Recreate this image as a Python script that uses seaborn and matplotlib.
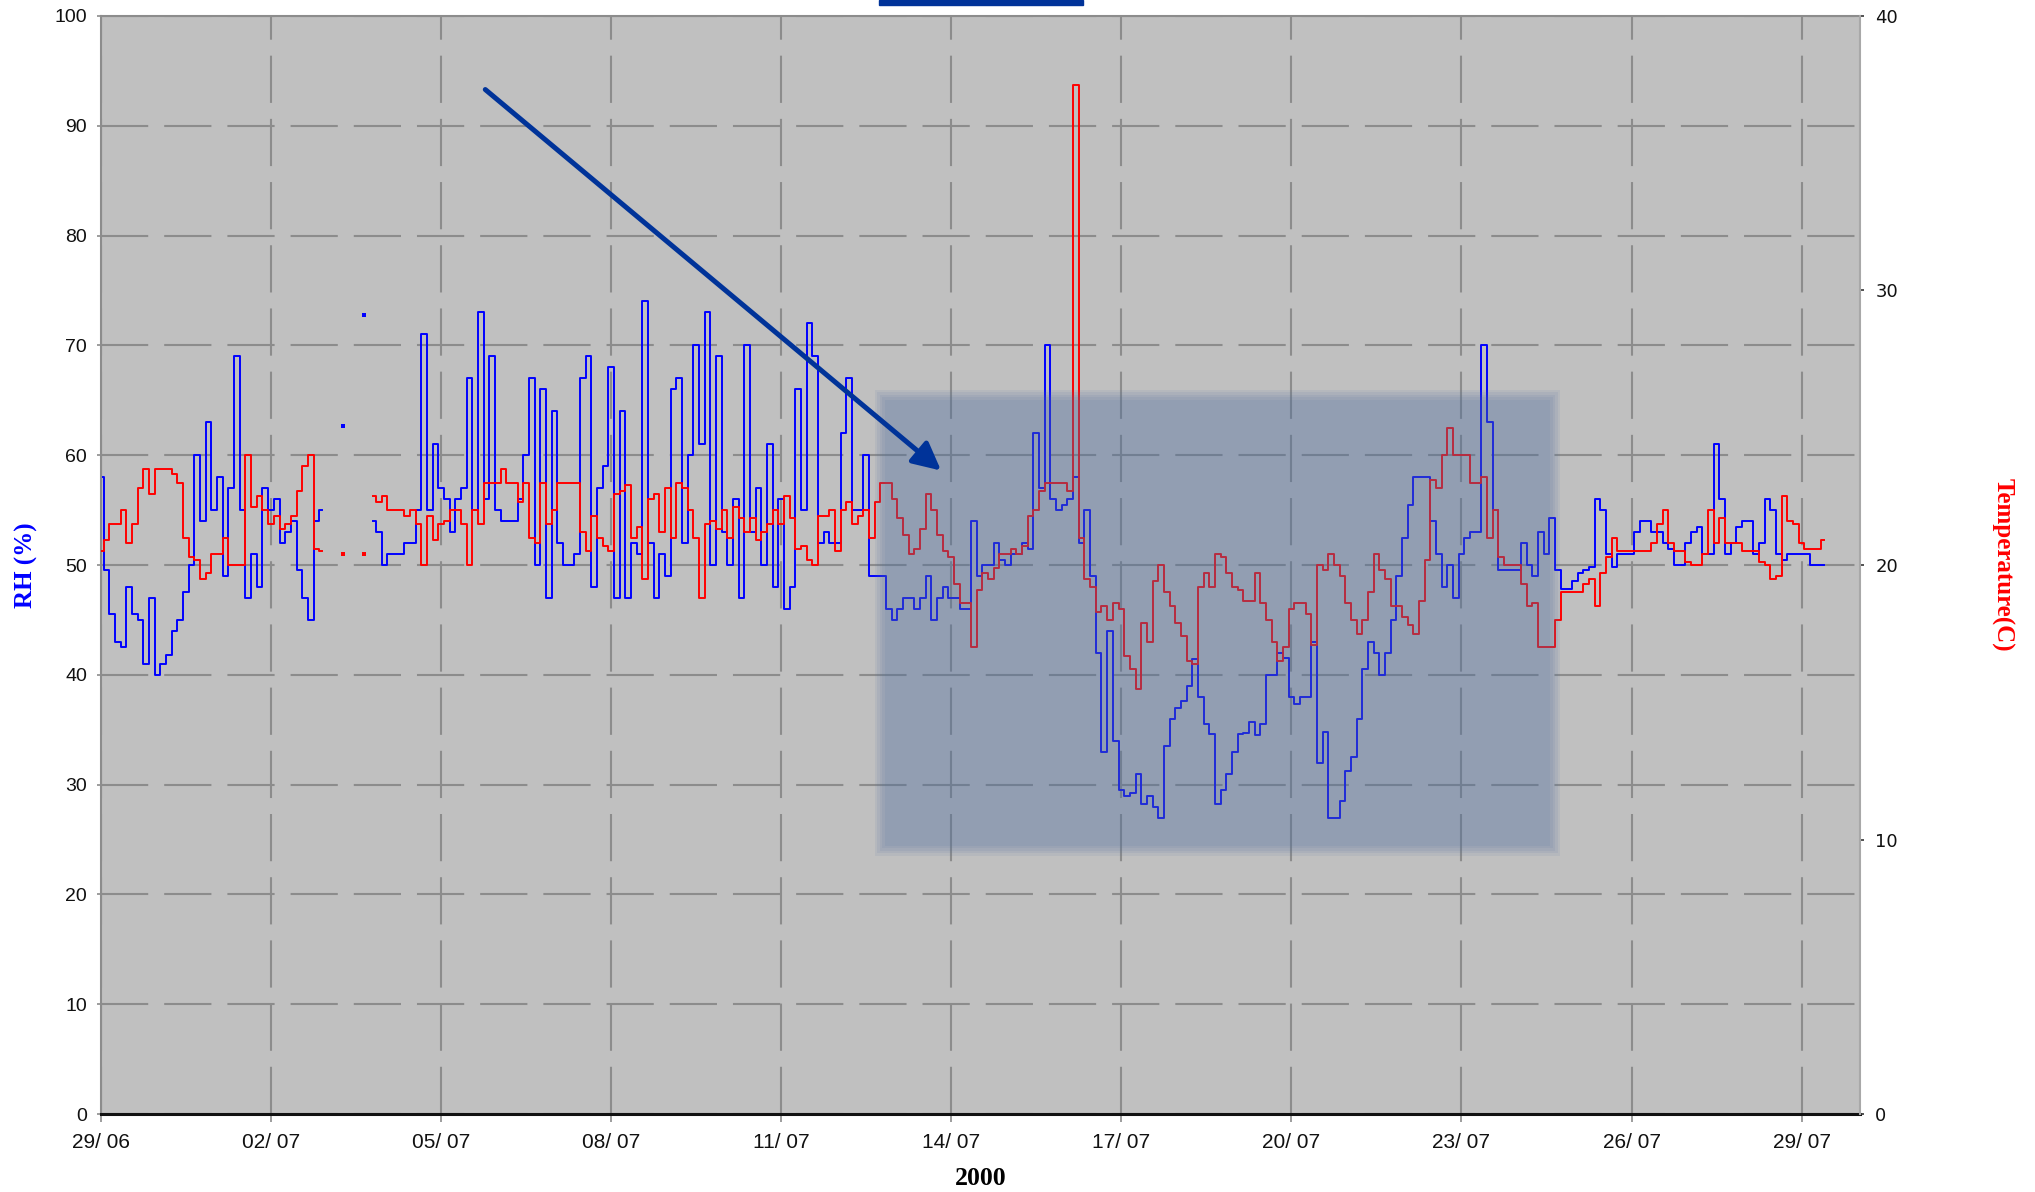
"""
RH and temperature logger trace, 29/06 - 30/07/2000.
Blue = relative humidity (left axis), red = temperature (right axis).
"""

import numpy as np
import pandas as pd
import matplotlib
matplotlib.use("Agg")
import matplotlib.pyplot as plt
from matplotlib.patches import Rectangle
import seaborn as sns

nan = np.nan

# ── data: one reading every 0.1 day from 29/06/2000, one row per day ──
day_step = 0.1

rh = [
    58, 49.5, 45.5, 43, 42.5, 48, 45.5, 45, 41, 47,
    40, 41, 41.8, 44, 45, 47.5, 50, 60, 54, 63,
    55, 58, 49, 57, 69, 55, 47, 51, 48, 57,
    55, 56, 52, 53, 54, 49.5, 47, 45, 54, 55,
    nan, nan, nan, nan, nan, nan, nan, nan, 54, 53,
    50, 51, 51, 51, 52, 52, 55, 71, 55, 61,
    57, 56, 53, 56, 57, 67, 55, 73, 56, 69,
    55, 54, 54, 54, 56, 60, 67, 50, 66, 47,
    64, 52, 50, 50, 51, 67, 69, 48, 57, 59,
    68, 47, 64, 47, 52, 51, 74, 52, 47, 51,
    49, 66, 67, 52, 60, 70, 61, 73, 50, 69,
    53, 50, 56, 47, 70, 53, 57, 50, 61, 48,
    56, 46, 48, 66, 55, 72, 69, 52, 53, 52,
    52, 62, 67, 55, 55, 60, 49, 49, 49, 46,
    45, 46, 47, 47, 46, 47, 49, 45, 47, 48,
    47, 47, 46, 46, 54, 49, 50, 50, 52, 50.5,
    50, 51, 51, 52, 51.5, 62, 57, 70, 56, 55,
    55.5, 56, 58, 52, 55, 49, 42, 33, 44, 34,
    29.5, 29, 29.2, 31, 28.2, 29, 28, 27, 33.5, 36,
    37, 37.6, 39, 41.4, 38, 35.5, 34.6, 28.2, 29.5, 31,
    33, 34.6, 34.7, 35.7, 34.5, 35.5, 40, 40, 42, 41.5,
    38, 37.3, 38, 38, 43, 32, 34.8, 27, 27, 28.5,
    31.2, 32.5, 36, 40.5, 43, 42, 40, 42, 45, 49,
    52.5, 55.5, 58, 58, 58, 54, 51, 48, 50, 47,
    51, 52.5, 53, 53, 70, 63, 55, 49.5, 49.5, 49.5,
    49.5, 52, 50, 49, 53, 51, 54.3, 49.5, 47.8, 47.8,
    48.5, 49.3, 49.5, 49.8, 56, 55, 51, 49.8, 51, 51,
    51, 53, 54, 54, 53, 53, 52, 51.5, 50, 50,
    52, 53, 53.5, 51, 51, 61, 56, 51, 52, 53.5,
    54, 54, 51, 52, 56, 55, 51, 50.5, 51, 51,
    51, 51, 50, 50, 50,
]

temp = [
    20.5, 20.9, 21.5, 21.5, 22.0, 20.8, 21.5, 22.8, 23.5, 22.6,
    23.5, 23.5, 23.5, 23.3, 23.0, 21.0, 20.3, 20.2, 19.5, 19.7,
    20.4, 20.4, 21.0, 20.0, 20.0, 20.0, 24.0, 22.1, 22.5, 22.0,
    21.5, 21.8, 21.3, 21.5, 21.8, 22.7, 23.6, 24.0, 20.6, 20.5,
    nan, nan, nan, nan, nan, nan, nan, nan, 22.5, 22.3,
    22.5, 22.0, 22.0, 22.0, 21.8, 22.0, 21.5, 20.0, 21.8, 20.9,
    21.5, 21.6, 22.0, 22.0, 21.5, 20.0, 22.0, 21.5, 23.0, 23.0,
    23.0, 23.5, 23.0, 23.0, 22.3, 23.0, 21.0, 20.8, 23.0, 21.5,
    22.0, 23.0, 23.0, 23.0, 23.0, 21.2, 20.5, 21.8, 21.0, 20.7,
    20.5, 22.6, 22.7, 22.9, 21.0, 21.4, 19.5, 22.4, 22.6, 21.2,
    22.8, 21.0, 23.0, 22.8, 22.0, 21.0, 18.8, 21.5, 21.6, 21.3,
    22.0, 21.0, 22.1, 21.7, 21.2, 21.7, 20.9, 21.2, 21.5, 22.0,
    21.5, 22.5, 21.7, 20.6, 20.7, 20.2, 20.0, 21.8, 21.8, 22.0,
    20.5, 22.0, 22.3, 21.5, 21.8, 22.0, 21.0, 22.3, 23.0, 23.0,
    22.4, 21.7, 21.1, 20.4, 20.6, 21.3, 22.6, 22.0, 21.1, 20.5,
    20.3, 19.3, 18.6, 18.6, 17.0, 19.1, 19.7, 19.5, 19.9, 20.4,
    20.4, 20.6, 20.4, 20.7, 21.8, 22.0, 22.7, 23.0, 23.0, 23.0,
    23.0, 22.7, 37.5, 21.0, 19.5, 19.2, 18.3, 18.5, 18.0, 18.6,
    18.4, 16.7, 16.2, 15.5, 17.9, 17.2, 19.4, 20.0, 19.0, 18.5,
    17.9, 17.4, 16.5, 16.4, 19.2, 19.7, 19.2, 20.4, 20.3, 19.7,
    19.2, 19.1, 18.7, 18.7, 19.7, 18.6, 18.0, 17.2, 16.5, 17.0,
    18.4, 18.6, 18.6, 18.2, 17.1, 20.0, 19.8, 20.4, 20.0, 19.6,
    18.6, 18.0, 17.5, 18.0, 19.0, 20.4, 19.8, 19.5, 18.5, 18.5,
    18.1, 17.8, 17.5, 18.7, 20.2, 23.1, 22.8, 24.0, 25.0, 24.0,
    24.0, 24.0, 23.0, 23.0, 23.2, 21.0, 22.0, 20.3, 20.0, 20.0,
    20.0, 19.3, 18.5, 18.6, 17.0, 17.0, 17.0, 18.0, 19.0, 19.0,
    19.0, 19.0, 19.3, 19.5, 18.5, 19.7, 20.3, 21.0, 20.5, 20.5,
    20.5, 20.5, 20.5, 20.5, 20.8, 21.5, 22.0, 20.8, 20.5, 20.5,
    20.1, 20.0, 20.0, 20.4, 22.0, 20.8, 21.7, 20.8, 20.8, 20.8,
    20.5, 20.5, 20.5, 20.1, 20.0, 19.5, 19.6, 22.5, 21.6, 21.5,
    20.8, 20.6, 20.6, 20.6, 20.9,
]

# lone readings inside the logger gap (03/07 - 04/07)
gap_days = [4.27, 4.64]
gap_rh = [62.7, 72.8]
gap_temp = [20.4, 20.4]

tick_days = [0, 3, 6, 9, 12, 15, 18, 21, 24, 27, 30]
tick_labels = ["29/ 06", "02/ 07", "05/ 07", "08/ 07", "11/ 07", "14/ 07",
               "17/ 07", "20/ 07", "23/ 07", "26/ 07", "29/ 07"]

# highlighted dry spell and the arrow pointing to it (day, RH)
highlight_days = (13.74, 25.65)
highlight_rh = (24.0, 65.5)
arrow_tail = (6.78, 93.3)
arrow_head = (14.82, 58.6)

# ── style ──
BLUE = "#0000FF"
RED = "#FF0000"
NAVY = "#003399"
GRID = "#8C8C8C"

plt.rcParams.update({
    "font.family": ["Liberation Sans", "DejaVu Sans"],
    "lines.scale_dashes": False,
})

days = np.arange(len(rh)) * day_step
df = pd.DataFrame({"day": days, "rh": rh, "temp": temp})
df["seg"] = df["rh"].isna().cumsum()   # break the lines at the gap
df = df.dropna()

fig, ax = plt.subplots(figsize=(20.35, 11.92), dpi=100)
fig.subplots_adjust(left=0.0496, right=0.914, bottom=0.0654, top=0.9866)
ax.set_facecolor("#C0C0C0")
ax2 = ax.twinx()

# the logger trace is stair-stepped, so draw it that way
sns.lineplot(data=df, x="day", y="rh", units="seg", estimator=None,
             color=BLUE, lw=1.4, ax=ax, legend=False, drawstyle="steps-mid")
sns.scatterplot(x=gap_days, y=gap_rh, color=BLUE, marker="s", s=6,
                linewidth=0, ax=ax)
sns.lineplot(data=df, x="day", y="temp", units="seg", estimator=None,
             color=RED, lw=1.4, ax=ax2, legend=False, drawstyle="steps-mid")
sns.scatterplot(x=gap_days, y=gap_temp, color=RED, marker="s", s=6,
                linewidth=0, ax=ax2)

# shaded window (on the twin so it covers both traces); a few nested
# layers give it the soft edge of the original
px_day = 31.03 / 1759      # one pixel in days
px_rh = 100 / 1098         # one pixel in RH units
for k in range(-2, 3):
    grow = 2.5 * k
    ax2.add_patch(Rectangle(
        (highlight_days[0] - grow * px_day, highlight_rh[0] - grow * px_rh),
        highlight_days[1] - highlight_days[0] + 2 * grow * px_day,
        highlight_rh[1] - highlight_rh[0] + 2 * grow * px_rh,
        transform=ax.transData, facecolor="#5270A2", alpha=0.097,
        edgecolor="none", zorder=3))

ax2.annotate("", xy=arrow_head, xytext=arrow_tail,
             xycoords=ax.transData, textcoords=ax.transData,
             arrowprops=dict(arrowstyle="-|>,head_length=0.6,head_width=0.3",
                             color=NAVY, lw=3.6, shrinkA=0, shrinkB=0,
                             mutation_scale=28),
             zorder=4)

# ── axes ──
ax.set_xlim(0, 31.03)
ax.set_ylim(0, 100)
ax2.set_ylim(0, 40)

ax.set_xticks(tick_days)
ax.set_xticklabels(tick_labels, fontsize=15, color="#111111")
ax.set_yticks(range(0, 101, 10))
ax.tick_params(axis="y", labelsize=14, labelcolor="#111111", length=3,
               width=1.2, color=GRID, pad=7)
ax.tick_params(axis="x", direction="inout", length=12, width=1.2,
               color=GRID, pad=8)

ax2.set_yticks(range(0, 41, 10))
ax2.tick_params(axis="y", labelsize=13, labelcolor="#111111", length=3,
                width=1.2, color="#333333", pad=8)
for lab in ax2.get_yticklabels():
    lab.set_fontfamily("DejaVu Sans")

ax.grid(True, color=GRID, lw=1.5, linestyle=(0, (34, 11.5)))

for side in ["left", "top"]:
    ax.spines[side].set_color("#8C8C8C")
    ax.spines[side].set_linewidth(1.5)
ax.spines["bottom"].set_color("#111111")
ax.spines["bottom"].set_linewidth(2.2)
ax.spines["right"].set_visible(False)
for side in ["left", "top", "bottom"]:
    ax2.spines[side].set_visible(False)
ax2.spines["right"].set_color("#A8A8A8")
ax2.spines["right"].set_linewidth(1.5)

serif = ["Liberation Serif", "DejaVu Serif"]
ax.set_ylabel("RH (%)", color=BLUE, fontsize=18, fontweight="bold",
              family=serif, va="center", ha="center")
ax.yaxis.set_label_coords(-0.0422, 0.5)
ax2.set_ylabel("Temperature(C)", color=RED, fontsize=18, fontweight="bold",
               family=serif, rotation=270, va="center", ha="center")
ax2.yaxis.set_label_coords(1.0806, 0.5)
ax.set_xlabel("2000", fontsize=18.5, fontweight="bold", family=serif,
              va="center")
ax.xaxis.set_label_coords(0.5, -0.0587)

# clipped title bar at the very top
fig.add_artist(Rectangle((879 / 2035, 1 - 5 / 1192), 204 / 2035, 5 / 1192,
                         transform=fig.transFigure, color=NAVY))

fig.savefig("out.png", dpi=100)
plt.close(fig)
